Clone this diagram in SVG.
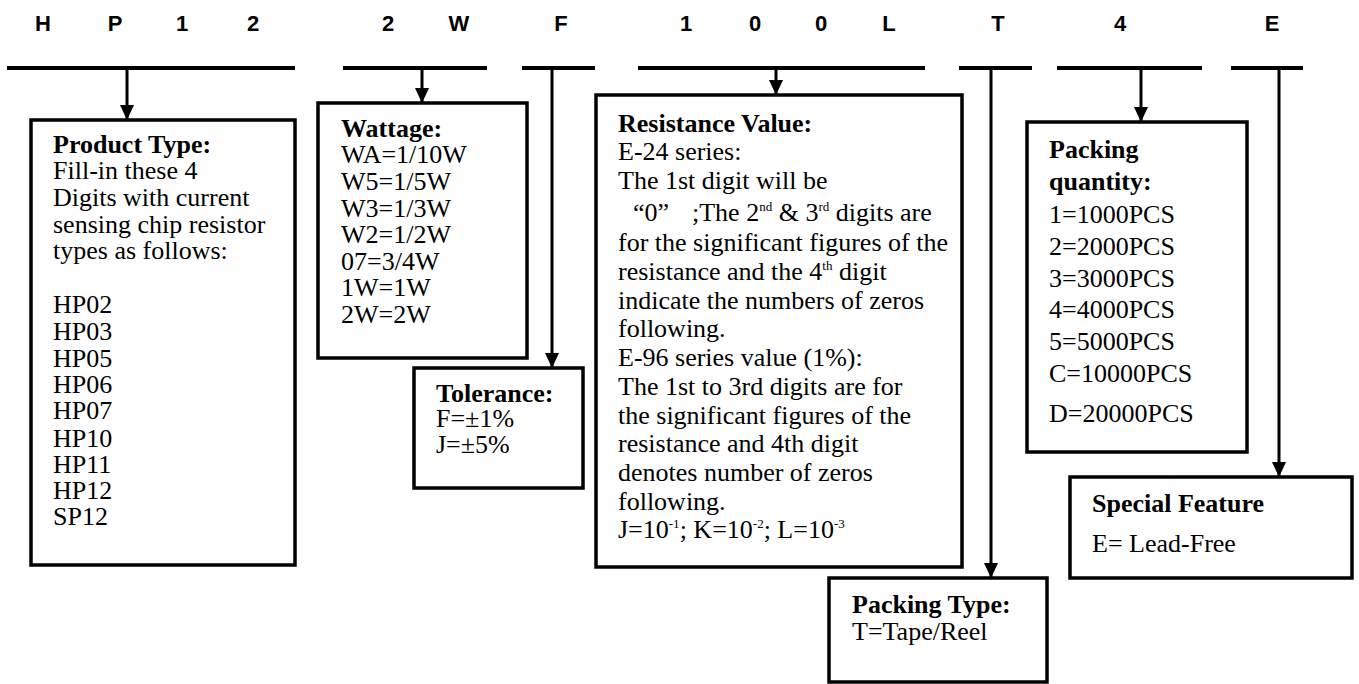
<svg xmlns="http://www.w3.org/2000/svg" width="1359" height="684" viewBox="0 0 1359 684">
<style>
.hdr{font-family:"Liberation Sans",Arial,sans-serif;font-weight:bold;font-size:22px;fill:#000;text-anchor:middle}
.t{font-family:"Liberation Serif","Times New Roman",serif;font-size:26px;fill:#000}
.b{font-weight:bold}
.box{fill:#fff;stroke:#000;stroke-width:3.5}
.bar{stroke:#000;stroke-width:4}
.con{stroke:#000;stroke-width:3;fill:none}
.sup{font-size:13px}
</style>
<defs>
<marker id="ah" markerUnits="userSpaceOnUse" markerWidth="15" markerHeight="14" refX="15" refY="7" orient="auto" viewBox="0 0 15 14">
<polygon points="0,0 15,7 0,14" fill="#000"/>
</marker>
</defs>
<rect width="1359" height="684" fill="#fff"/>
<g id="header">
<text class="hdr" x="43" y="31">H</text>
<text class="hdr" x="115" y="31">P</text>
<text class="hdr" x="182" y="31">1</text>
<text class="hdr" x="253" y="31">2</text>
<text class="hdr" x="388" y="31">2</text>
<text class="hdr" x="459" y="31">W</text>
<text class="hdr" x="561" y="31">F</text>
<text class="hdr" x="686" y="31">1</text>
<text class="hdr" x="755" y="31">0</text>
<text class="hdr" x="821" y="31">0</text>
<text class="hdr" x="889" y="31">L</text>
<text class="hdr" x="998" y="31">T</text>
<text class="hdr" x="1120" y="31">4</text>
<text class="hdr" x="1272" y="31">E</text>
<line class="bar" x1="7" y1="68" x2="295" y2="68"/>
<line class="bar" x1="343" y1="68" x2="487" y2="68"/>
<line class="bar" x1="522" y1="68" x2="595" y2="68"/>
<line class="bar" x1="638" y1="68" x2="925" y2="68"/>
<line class="bar" x1="959" y1="68" x2="1032" y2="68"/>
<line class="bar" x1="1057" y1="68" x2="1202" y2="68"/>
<line class="bar" x1="1231" y1="68" x2="1303" y2="68"/>
</g>
<g id="connectors">
<line class="con" x1="127" y1="70" x2="127" y2="120" marker-end="url(#ah)"/>
<line class="con" x1="422" y1="70" x2="422" y2="103" marker-end="url(#ah)"/>
<line class="con" x1="552" y1="70" x2="552" y2="368" marker-end="url(#ah)"/>
<line class="con" x1="776" y1="70" x2="776" y2="95" marker-end="url(#ah)"/>
<line class="con" x1="991" y1="70" x2="991" y2="578" marker-end="url(#ah)"/>
<line class="con" x1="1141" y1="70" x2="1141" y2="122" marker-end="url(#ah)"/>
<line class="con" x1="1279" y1="70" x2="1279" y2="477" marker-end="url(#ah)"/>
</g>
<g id="product-type">
<rect class="box" x="31" y="120" width="264" height="445"/>
<text class="t" x="53" y="153"><tspan class="b">Product Type:</tspan>
<tspan x="53" y="179">Fill-in these 4</tspan>
<tspan x="53" y="206">Digits with current</tspan>
<tspan x="53" y="233">sensing chip resistor</tspan>
<tspan x="53" y="259">types as follows:</tspan>
<tspan x="53" y="313">HP02</tspan>
<tspan x="53" y="340">HP03</tspan>
<tspan x="53" y="367">HP05</tspan>
<tspan x="53" y="393">HP06</tspan>
<tspan x="53" y="419">HP07</tspan>
<tspan x="53" y="447">HP10</tspan>
<tspan x="53" y="473">HP11</tspan>
<tspan x="53" y="499">HP12</tspan>
<tspan x="53" y="525">SP12</tspan></text>
</g>
<g id="wattage">
<rect class="box" x="318" y="103" width="209" height="255"/>
<text class="t" x="341" y="137"><tspan class="b">Wattage:</tspan>
<tspan x="341" y="163">WA=1/10W</tspan>
<tspan x="341" y="190">W5=1/5W</tspan>
<tspan x="341" y="217">W3=1/3W</tspan>
<tspan x="341" y="243">W2=1/2W</tspan>
<tspan x="341" y="270">07=3/4W</tspan>
<tspan x="341" y="296">1W=1W</tspan>
<tspan x="341" y="323">2W=2W</tspan></text>
</g>
<g id="tolerance">
<rect class="box" x="414" y="368" width="169" height="120"/>
<text class="t" x="436" y="402"><tspan class="b">Tolerance:</tspan>
<tspan x="436" y="427">F=±1%</tspan>
<tspan x="436" y="453">J=±5%</tspan></text>
</g>
<g id="resistance-value">
<rect class="box" x="596" y="95" width="366" height="472"/>
<text class="t" x="618" y="132"><tspan class="b">Resistance Value:</tspan>
<tspan x="618" y="160">E-24 series:</tspan>
<tspan x="618" y="189">The 1st digit will be</tspan>
<tspan x="633" y="221">“0”</tspan><tspan x="692" y="221">;The 2</tspan><tspan class="sup" dy="-10">nd</tspan><tspan dy="10"> &amp; 3</tspan><tspan class="sup" dy="-10">rd</tspan><tspan dy="10"> digits are</tspan>
<tspan x="618" y="251">for the significant figures of the</tspan>
<tspan x="618" y="280">resistance and the 4</tspan><tspan class="sup" dy="-10">th</tspan><tspan dy="10"> digit</tspan>
<tspan x="618" y="309">indicate the numbers of zeros</tspan>
<tspan x="618" y="337">following.</tspan>
<tspan x="618" y="366">E-96 series value (1%):</tspan>
<tspan x="618" y="395">The 1st to 3rd digits are for</tspan>
<tspan x="618" y="424">the significant figures of the</tspan>
<tspan x="618" y="452">resistance and 4th digit</tspan>
<tspan x="618" y="481">denotes number of zeros</tspan>
<tspan x="618" y="510">following.</tspan>
<tspan x="618" y="538">J=10</tspan><tspan class="sup" dy="-10">-1</tspan><tspan dy="10">; K=10</tspan><tspan class="sup" dy="-10">-2</tspan><tspan dy="10">; L=10</tspan><tspan class="sup" dy="-10">-3</tspan></text>
</g>
<g id="packing-type">
<rect class="box" x="829" y="578" width="218" height="104"/>
<text class="t" x="852" y="613"><tspan class="b">Packing Type:</tspan>
<tspan x="852" y="640">T=Tape/Reel</tspan></text>
</g>
<g id="packing-quantity">
<rect class="box" x="1027" y="122" width="220" height="330"/>
<text class="t" x="1049" y="158"><tspan class="b">Packing</tspan>
<tspan class="b" x="1049" y="190">quantity:</tspan>
<tspan x="1049" y="223">1=1000PCS</tspan>
<tspan x="1049" y="255">2=2000PCS</tspan>
<tspan x="1049" y="287">3=3000PCS</tspan>
<tspan x="1049" y="318">4=4000PCS</tspan>
<tspan x="1049" y="350">5=5000PCS</tspan>
<tspan x="1049" y="382">C=10000PCS</tspan>
<tspan x="1049" y="422">D=20000PCS</tspan></text>
</g>
<g id="special-feature">
<rect class="box" x="1070" y="477" width="282" height="101"/>
<text class="t" x="1092" y="512"><tspan class="b">Special Feature</tspan>
<tspan x="1092" y="552">E= Lead-Free</tspan></text>
</g>
</svg>
